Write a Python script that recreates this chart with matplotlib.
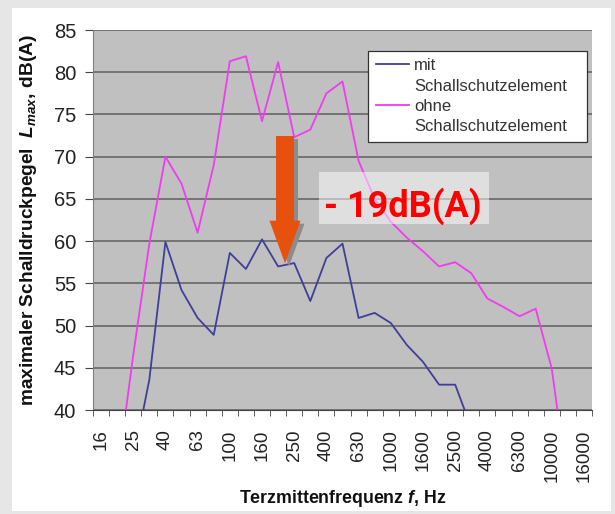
import matplotlib
matplotlib.use("Agg")
import matplotlib.pyplot as plt
from matplotlib.lines import Line2D
from matplotlib.patches import Polygon, Rectangle

# Terzbänder 16 Hz .. 16 kHz
freqs = ["16", "20", "25", "31.5", "40", "50", "63", "80", "100", "125", "160",
         "200", "250", "315", "400", "500", "630", "800", "1000", "1250", "1600",
         "2000", "2500", "3150", "4000", "5000", "6300", "8000", "10000", "12500", "16000"]
mit = [25, 28, 34, 43.6, 59.9, 54.2, 50.9, 48.9, 58.6, 56.7, 60.2, 57.0, 57.4,
       52.9, 58.0, 59.7, 50.9, 51.5, 50.3, 47.7, 45.7, 43.0, 43.0, 37.9, 33,
       30, 28, 27, 26, 25, 24]
ohne = [25, 32.2, 46.5, 59.7, 70.0, 66.8, 61.0, 69.0, 81.3, 81.9, 74.2, 81.2,
        72.3, 73.2, 77.5, 78.9, 69.5, 65.0, 62.3, 60.4, 58.8, 57.0, 57.5, 56.2,
        53.2, 52.2, 51.1, 52.0, 44.9, 31.0, 25]
yticks = [40, 45, 50, 55, 60, 65, 70, 75, 80, 85]

plt.rcParams["font.family"] = ["Liberation Sans", "DejaVu Sans"]
plt.rcParams["mathtext.fontset"] = "custom"
plt.rcParams["mathtext.rm"] = "Liberation Sans:bold"
plt.rcParams["mathtext.it"] = "Liberation Sans:italic:bold"

W, H = 615, 514
fig = plt.figure(figsize=(W / 100, H / 100), dpi=100, facecolor="#e6e6e6")
fig.patches.append(Rectangle((12 / W, 3 / H), 599 / W, 503 / H, transform=fig.transFigure,
                             facecolor="white", edgecolor="none", zorder=-5))

L, R, T, B = 93, 592, 30, 410
ax = fig.add_axes([L / W, 1 - B / H, (R - L) / W, (B - T) / H])
ax.set_facecolor("#c0c0c0")

x = list(range(len(freqs)))
ax.plot(x, mit, color="#3f3f99", lw=1.3, zorder=3)
ax.plot(x, ohne, color="#f03cf0", lw=1.3, zorder=3)

ax.set_xlim(-0.5, len(freqs) - 0.5)
ax.set_ylim(40, 85)
ax.set_yticks(yticks)
ax.yaxis.grid(True, color="#5f5f5f", lw=1.1)
ax.set_axisbelow(True)

ax.set_xticks(x[::2])
ax.set_xticklabels(freqs[::2], rotation=90, color="#222222", fontsize=13.5)
ax.set_xticks([i - 0.5 for i in range(len(freqs) + 1)], minor=True)
ax.tick_params(axis="x", which="major", length=0, pad=14)
ax.tick_params(axis="x", which="minor", length=4, color="#444444", direction="out")
ax.tick_params(axis="y", length=6, color="#444444", labelsize=14.5, labelcolor="#222222", pad=6)

for s in ["top", "right"]:
    ax.spines[s].set_visible(False)
ax.spines["left"].set_color("#808080")
ax.spines["bottom"].set_color("#444444")

ax.set_ylabel(r"maximaler Schalldruckpegel  $L_{max}$, dB(A)", fontsize=13.8,
              fontweight="bold", color="#111111")
ax.set_xlabel(r"Terzmittenfrequenz $f$, Hz", fontsize=12.8, fontweight="bold",
              color="#111111")
ax.yaxis.set_label_coords((39 - L) / (R - L), 0.5)
ax.xaxis.set_label_coords(0.5, (B - 488) / (B - T))

blank = Line2D([], [], color="none")
handles = [Line2D([], [], color="#3f3f99", lw=1.3), blank,
           Line2D([], [], color="#f03cf0", lw=1.3), blank]
labels = ["mit", "Schallschutzelement", "ohne", "Schallschutzelement"]
lx0 = (368 - L) / (R - L)
lx1 = (587 - L) / (R - L)
ly1 = (B - 50.7) / (B - T)
leg = ax.legend(handles, labels, loc="upper left", bbox_to_anchor=(lx0, ly1, lx1 - lx0, 0.0),
                mode="expand", borderaxespad=0, fontsize=12, labelspacing=0.32,
                handlelength=2.0, handletextpad=0.3, borderpad=0.45,
                fancybox=False, framealpha=1, edgecolor="#333333")
leg.get_frame().set_linewidth(0.9)
for t in leg.get_texts():
    t.set_color("#333333")


def px(a, b):
    return ((a - L) / (R - L), (B - b) / (B - T))


arrow = [(276, 136), (294, 136), (294, 220.7), (300.5, 220.7), (285, 263.3),
         (269.5, 220.7), (276, 220.7)]
shadow = Polygon([px(a + 4, b + 3) for a, b in arrow], closed=True, transform=ax.transAxes,
                 facecolor="#8c8c8c", edgecolor="none", zorder=4)
ax.add_patch(shadow)
ax.add_patch(Polygon([px(a, b) for a, b in arrow], closed=True, transform=ax.transAxes,
                     facecolor="#e8500e", edgecolor="none", zorder=5))

bx, by = px(319, 224.3)
ax.add_patch(Rectangle((bx, by), 170 / (R - L), 52 / (B - T), transform=ax.transAxes,
                       facecolor="white", alpha=0.5, edgecolor="none", zorder=6))
tx, ty = px(403, 217)
ax.text(tx, ty, "- 19dB(A)", transform=ax.transAxes, ha="center", va="baseline",
        fontsize=26, fontweight="bold", color="#ff0000", family="Roboto", zorder=7)

fig.savefig("out.png", dpi=100, facecolor=fig.get_facecolor())
